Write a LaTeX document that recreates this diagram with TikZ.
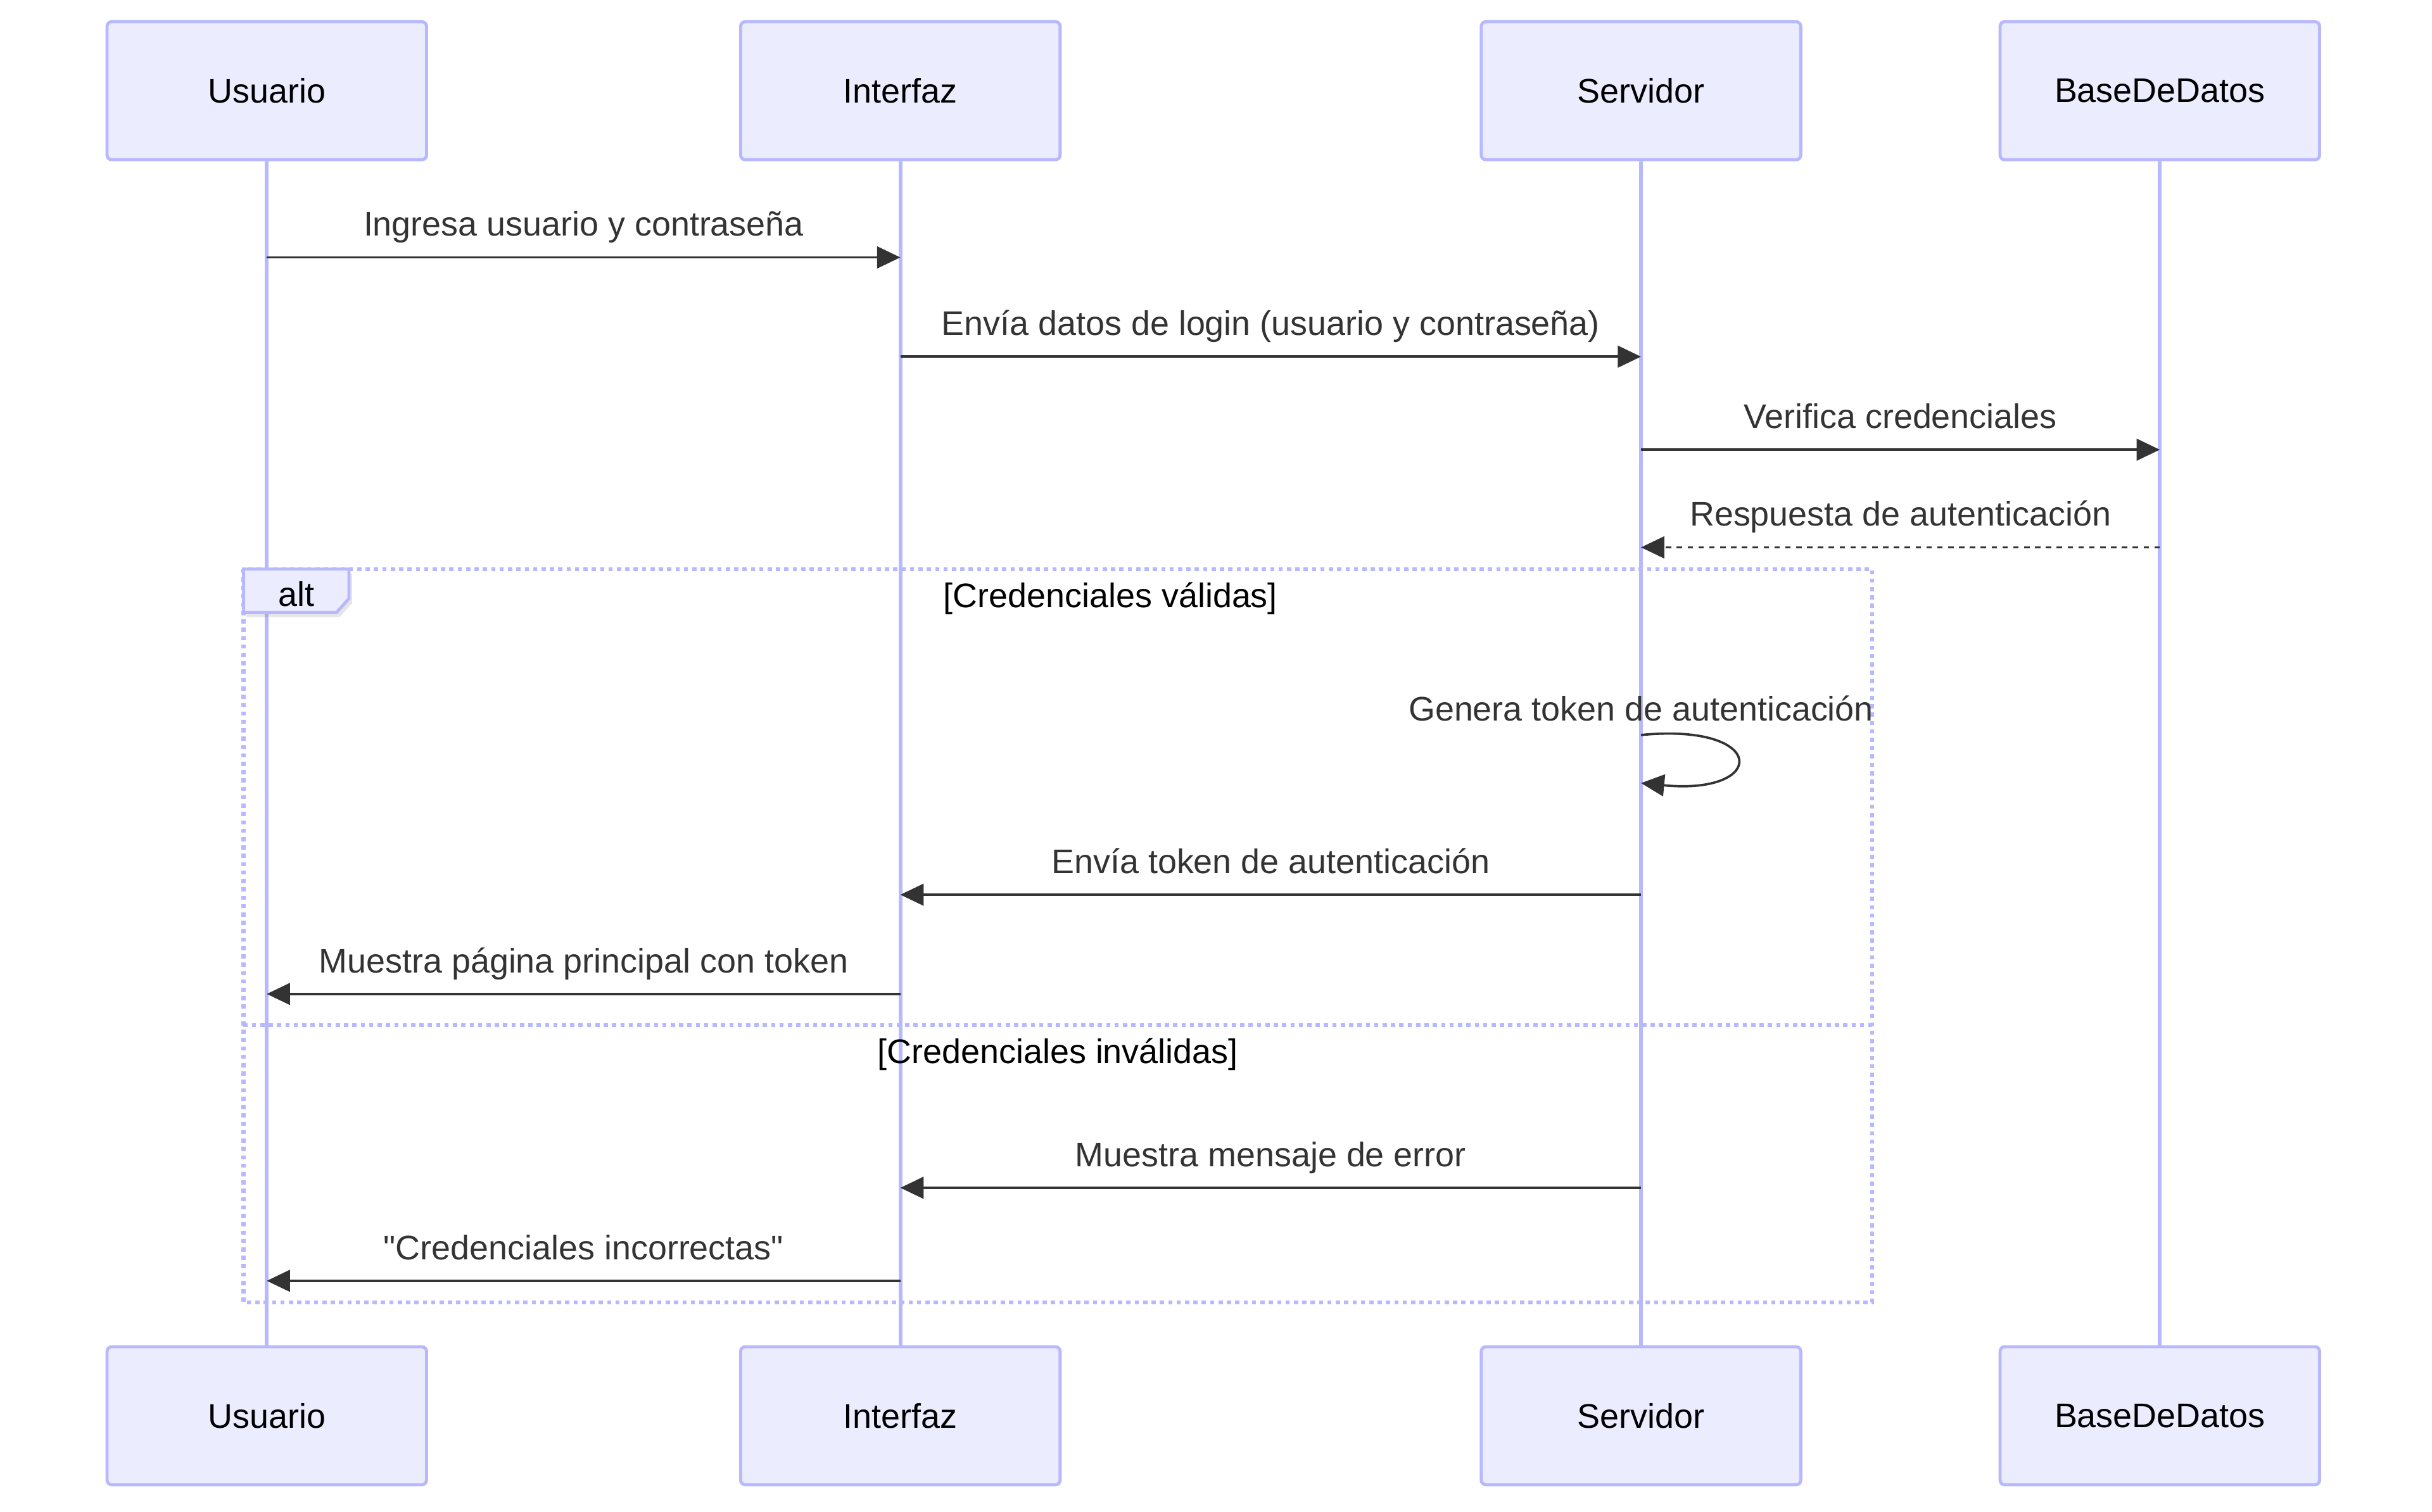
\documentclass[tikz,border=0pt]{standalone}
\usepackage{fontspec}
\setmainfont{Liberation Sans}[Ligatures=TeXOff]
\usepackage{tikz}
\usetikzlibrary{arrows.meta, positioning, calc, shadows}
\definecolor{actorfill}{HTML}{ECECFF}
\definecolor{actorline}{HTML}{B8B8FF}
\definecolor{msgcol}{HTML}{333333}

\begin{document}
\begin{tikzpicture}[x=1pt, y=-1pt, >={Triangle[length=15pt, width=14pt]}, font=\fontsize{22}{26}\selectfont]
        \tikzstyle{actor} = [rectangle, rounded corners=3pt, minimum width=206pt, minimum height=89pt, draw=actorline, line width=2pt, fill=actorfill, text=black, inner sep=0pt]
        \tikzstyle{lifeline} = [draw=actorline, line width=2.5pt]
        \tikzstyle{msg} = [draw=msgcol, line width=1.5pt, ->]
        \tikzstyle{reply} = [msg, dash pattern=on 3.5pt off 3.5pt]
        \tikzstyle{msglabel} = [above=8pt, text=msgcol, inner sep=0pt, text height=16pt, text depth=5pt]
        \tikzstyle{altframe} = [draw=actorline, line width=2.5pt, dash pattern=on 2.7pt off 2.7pt]
        \tikzstyle{altbox} = [draw=actorline, line width=2pt, fill=actorfill, drop shadow={opacity=0.2, shadow xshift=2pt, shadow yshift=-3pt}]
        \tikzstyle{guard} = [text=black, inner sep=0pt]

        \useasboundingbox (0,0) rectangle (1568,975);

        % Participants
        \node (usuarioA) [actor] at (172,58.5) {Usuario};
        \node (interfazA) [actor] at (580.5,58.5) {Interfaz};
        \node (servidorA) [actor] at (1058,58.5) {Servidor};
        \node (baseA) [actor] at (1392.5,58.5) {BaseDeDatos};
        \node (usuarioB) [actor] at (172,913) {Usuario};
        \node (interfazB) [actor] at (580.5,913) {Interfaz};
        \node (servidorB) [actor] at (1058,913) {Servidor};
        \node (baseB) [actor] at (1392.5,913) {BaseDeDatos};

        % Lifelines
        \draw [lifeline] (usuarioA) -- (usuarioB);
        \draw [lifeline] (interfazA) -- (interfazB);
        \draw [lifeline] (servidorA) -- (servidorB);
        \draw [lifeline] (baseA) -- (baseB);

        % alt frame
        \coordinate (altNW) at (157,367);
        \coordinate (altSE) at (1207,840);
        \coordinate (sepW) at (157,661);
        \coordinate (sepE) at (1207,661);
        \draw [altframe] (altNW) rectangle (altSE);
        \draw [altframe] (sepW) -- (sepE);
        \draw [altbox] (altNW) -- (225,367) -- (225,386) -- (217,395) -- (157,395) -- cycle;
        \node (altlbl) [guard] at (191,383) {alt};
        \node (okguard) [guard] at (716,386) {[Credenciales válidas]};
        \node (badguard) [guard] at (682,680) {[Credenciales inválidas]};

        % Message ends
        \coordinate (m1a) at (usuarioA |- 0,166);
        \coordinate (m1b) at (interfazA |- 0,166);
        \coordinate (m2a) at (interfazA |- 0,230);
        \coordinate (m2b) at (servidorA |- 0,230);
        \coordinate (m3a) at (servidorA |- 0,290);
        \coordinate (m3b) at (baseA |- 0,290);
        \coordinate (m4a) at (baseA |- 0,353);
        \coordinate (m4b) at (servidorA |- 0,353);
        \coordinate (g1) at (servidorA |- 0,474);
        \coordinate (g2) at (servidorA |- 0,505);
        \coordinate (m6a) at (servidorA |- 0,577);
        \coordinate (m6b) at (interfazA |- 0,577);
        \coordinate (m7a) at (interfazA |- 0,641);
        \coordinate (m7b) at (usuarioA |- 0,641);
        \coordinate (m8a) at (servidorA |- 0,766);
        \coordinate (m8b) at (interfazA |- 0,766);
        \coordinate (m9a) at (interfazA |- 0,826);
        \coordinate (m9b) at (usuarioA |- 0,826);

        % Messages
        \draw [msg] (m1a) -- node[msglabel] {Ingresa usuario y contraseña} (m1b);
        \draw [msg] (m2a) -- node[msglabel] {Envía datos de login (usuario y contraseña)} (m2b);
        \draw [msg] (m3a) -- node[msglabel] {Verifica credenciales} (m3b);
        \draw [reply] (m4a) -- node[msglabel] {Respuesta de autenticación} (m4b);
        \node (genlbl) [text=msgcol, inner sep=0pt] at (servidorA |- 0,457) {Genera token de autenticación};
        \draw [msg] (g1) .. controls +(82,-8) and +(82,8) .. (g2);
        \draw [msg] (m6a) -- node[msglabel] {Envía token de autenticación} (m6b);
        \draw [msg] (m7a) -- node[msglabel] {Muestra página principal con token} (m7b);
        \draw [msg] (m8a) -- node[msglabel] {Muestra mensaje de error} (m8b);
        \draw [msg] (m9a) -- node[msglabel] {"Credenciales incorrectas"} (m9b);
    \end{tikzpicture}
\end{document}
